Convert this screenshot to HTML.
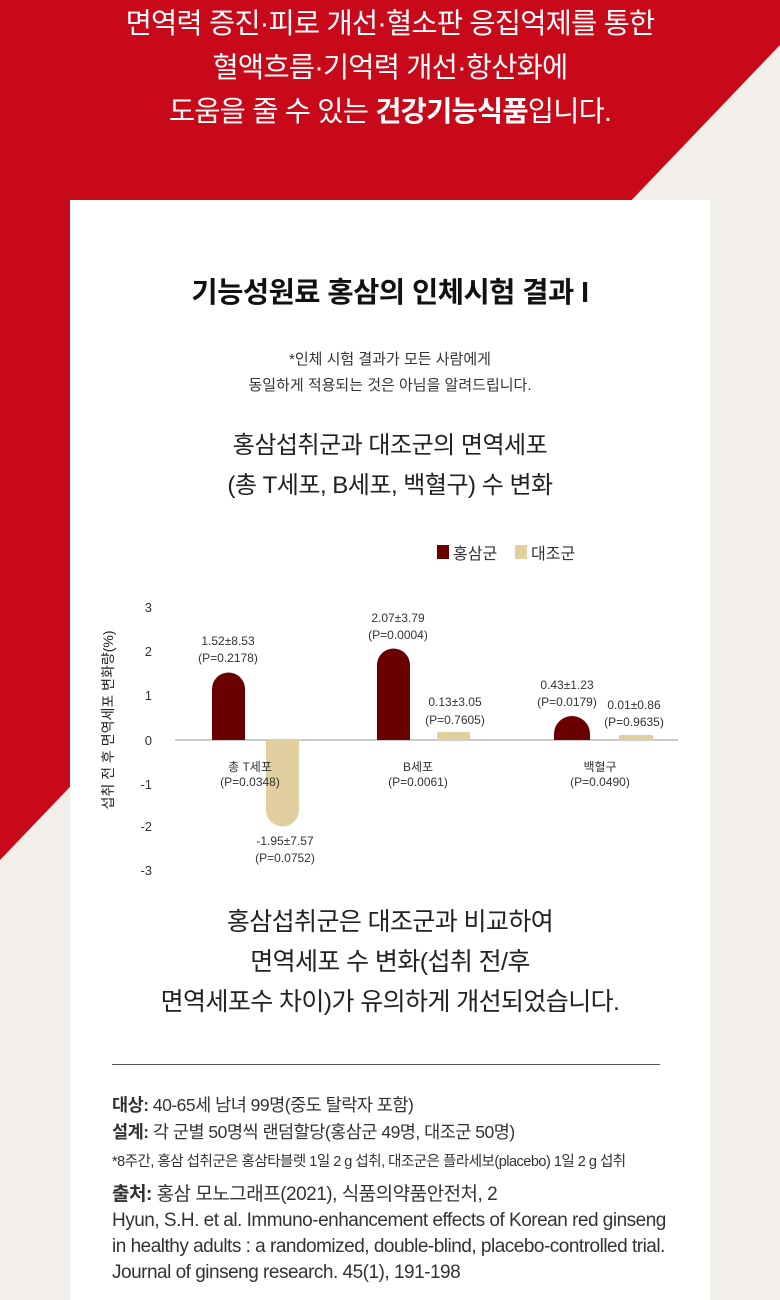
<!DOCTYPE html>
<html><head><meta charset="utf-8"><style>
*{margin:0;padding:0;box-sizing:border-box}
body{width:780px;height:1280px;position:relative;overflow:hidden;background:#f2efea;font-family:"Liberation Sans","Noto Sans CJK KR",sans-serif;color:#222}
.t{position:absolute;left:0;width:780px;text-align:center}
.card{position:absolute;left:70px;top:200px;width:640px;height:1100px;background:#fff}
.ref{position:absolute;left:112px;font-size:17.5px;color:#333;line-height:22px;letter-spacing:-0.5px;white-space:nowrap}
</style></head><body>
<svg width="780" height="1280" style="position:absolute;left:0;top:0"><polygon points="0,0 780,0 780,45 0,860" fill="#c8091a"/></svg>
<div class="t" style="top:2px;font-size:28.5px;color:#fff;line-height:44px;letter-spacing:-0.8px">면역력 증진·피로 개선·혈소판 응집억제를 통한<br>혈액흐름·기억력 개선·항산화에<br>도움을 줄 수 있는 <b>건강기능식품</b>입니다.</div>
<div class="card"></div>
<div class="t" style="top:270px;font-size:28.5px;font-weight:bold;color:#111;letter-spacing:-0.5px">기능성원료 홍삼의 인체시험 결과 I</div>
<div class="t" style="top:347px;font-size:15px;line-height:26px;color:#333">*인체 시험 결과가 모든 사람에게<br>동일하게 적용되는 것은 아님을 알려드립니다.</div>
<div class="t" style="top:426px;font-size:24px;line-height:40px;color:#222;letter-spacing:-0.5px">홍삼섭취군과 대조군의 면역세포<br>(총 T세포, B세포, 백혈구) 수 변화</div>
<svg width="780" height="1280" style="position:absolute;left:0;top:0" font-family="Liberation Sans,Noto Sans CJK KR,sans-serif">
<rect x="437" y="545" width="12" height="14" fill="#6b0000"/><text x="453" y="559" font-size="16" fill="#333">홍삼군</text>
<rect x="515" y="545" width="12" height="14" fill="#e2cfa0"/><text x="531" y="559" font-size="16" fill="#333">대조군</text>
<g font-size="13" fill="#333" text-anchor="end">
<text x="152" y="612">3</text><text x="152" y="656">2</text><text x="152" y="700">1</text><text x="152" y="745">0</text><text x="152" y="789">-1</text><text x="152" y="831">-2</text><text x="152" y="875">-3</text></g>
<text transform="translate(113,720) rotate(-90)" font-size="14" fill="#222" text-anchor="middle">섭취 전 후 면역세포 변화량(%)</text>
<line x1="175" y1="740" x2="678" y2="740" stroke="#bbb" stroke-width="1.5"/>
<path d="M212,740V689a16.5,16.5 0 0 1 33,0V740Z" fill="#6b0000"/>
<path d="M266,740V810a16.5,16.5 0 0 0 33,0V740Z" fill="#e2cfa0"/>
<path d="M377,740V665a16.5,16.5 0 0 1 33,0V740Z" fill="#6b0000"/>
<rect x="437" y="732" width="33" height="8" rx="2" fill="#e2cfa0"/>
<path d="M554,740V734a18,18 0 0 1 36,0V740Z" fill="#6b0000"/>
<rect x="619" y="735" width="34" height="5" rx="1" fill="#e2cfa0"/>
<g font-size="12" fill="#333" text-anchor="middle">
<text x="228" y="645">1.52±8.53</text><text x="228" y="662">(P=0.2178)</text>
<text x="398" y="622">2.07±3.79</text><text x="398" y="639">(P=0.0004)</text>
<text x="455" y="706">0.13±3.05</text><text x="455" y="724">(P=0.7605)</text>
<text x="567" y="689">0.43±1.23</text><text x="567" y="706">(P=0.0179)</text>
<text x="634" y="709">0.01±0.86</text><text x="634" y="726">(P=0.9635)</text>
<text x="250" y="771">총 T세포</text><text x="250" y="786">(P=0.0348)</text>
<text x="418" y="771">B세포</text><text x="418" y="786">(P=0.0061)</text>
<text x="600" y="771">백혈구</text><text x="600" y="786">(P=0.0490)</text>
<text x="285" y="845">-1.95±7.57</text><text x="285" y="862">(P=0.0752)</text>
</g></svg>
<div class="t" style="top:902px;font-size:25px;line-height:40px;color:#222;letter-spacing:-0.6px">홍삼섭취군은 대조군과 비교하여<br>면역세포 수 변화(섭취 전/후<br>면역세포수 차이)가 유의하게 개선되었습니다.</div>
<div style="position:absolute;left:112px;top:1064px;width:548px;height:1px;background:#555"></div>
<div class="ref" style="top:1094px"><b style="font-weight:600">대상:</b> 40-65세 남녀 99명(중도 탈락자 포함)</div>
<div class="ref" style="top:1121px"><b style="font-weight:600">설계:</b> 각 군별 50명씩 랜덤할당(홍삼군 49명, 대조군 50명)</div>
<div class="ref" style="top:1151px;font-size:14.5px">*8주간, 홍삼 섭취군은 홍삼타블렛 1일 2 g 섭취, 대조군은 플라세보(placebo) 1일 2 g 섭취</div>
<div class="ref" style="top:1182px;line-height:26px;font-size:19px"><b style="font-weight:600">출처:</b> 홍삼 모노그래프(2021), 식품의약품안전처, 2<br>Hyun, S.H. et al. Immuno-enhancement effects of Korean red ginseng<br>in healthy adults : a randomized, double-blind, placebo-controlled trial.<br>Journal of ginseng research. 45(1), 191-198</div>
</body></html>
